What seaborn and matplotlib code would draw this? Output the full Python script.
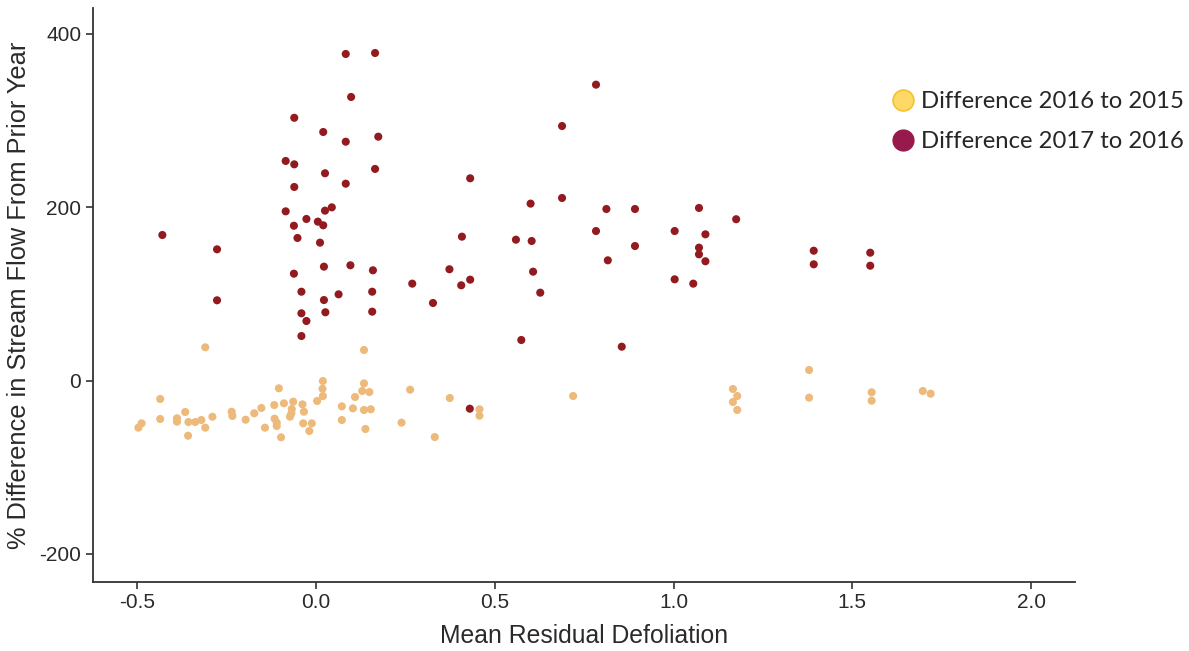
import pandas as pd
import numpy as np
import matplotlib
matplotlib.use("Agg")
import matplotlib.pyplot as plt
import seaborn as sns
from matplotlib.lines import Line2D

# values

# difference 2016 to 2015 (orange points)
defol_1615 = [-0.310, 0.134, 0.019, 0.018, 0.019, -0.104, 0.134, 0.129, 0.149, 0.109,
              0.003, -0.064, -0.090, -0.117, -0.038, -0.436, 0.263, 0.374, 0.072, 0.103,
              0.134, 0.153, -0.068, -0.034, -0.153, -0.173, -0.236, -0.234, -0.366, -0.290,
              -0.389, -0.389, -0.436, -0.357, -0.338, -0.321, -0.310, -0.358, -0.488, -0.497,
              -0.197, -0.116, -0.110, -0.110, -0.143, -0.069, -0.073, -0.036, -0.012, -0.019,
              -0.098, 0.072, 0.138, 0.239, 0.332, 0.457, 0.457, 0.719,
              1.166, 1.178, 1.166, 1.178, 1.379, 1.379, 1.554, 1.554, 1.697, 1.719]
flow_1615 = [38.3, 35.2, -0.6, -9.5, -17.9, -9.0, -3.3, -12.1, -13.3, -19.0,
             -23.6, -24.4, -26.3, -28.3, -27.5, -21.3, -10.6, -20.2, -29.8, -32.1,
             -34.0, -33.2, -32.9, -36.0, -31.7, -37.8, -36.0, -40.9, -36.3, -41.8,
             -43.6, -47.5, -44.4, -47.9, -47.9, -45.6, -54.4, -63.7, -49.4, -54.4,
             -45.2, -44.0, -48.6, -52.5, -54.4, -37.8, -41.7, -49.4, -49.4, -58.2,
             -65.5, -45.6, -55.9, -48.6, -65.2, -33.2, -40.6, -17.9,
             -9.8, -17.9, -24.8, -34.0, 12.1, -19.8, -13.6, -23.3, -12.1, -15.2]

# difference 2017 to 2016 (dark red points)
defol_1716 = [0.083, 0.165, 0.098, -0.061, 0.020, 0.083, 0.174, -0.085, -0.061, 0.025,
              0.165, -0.061, 0.083, 0.431, -0.085, 0.044, 0.025, -0.027, 0.005, 0.020,
              -0.062, -0.052, 0.011, -0.430, -0.277, 0.408, 0.022, 0.096, 0.159, -0.062,
              0.373, 0.269, 0.431, 0.406, -0.041, 0.157, 0.063, -0.277, 0.022, 0.327,
              -0.041, 0.026, 0.157, -0.027, -0.041,
              0.783, 0.688, 0.600, 0.688, 0.812, 0.892, 1.071, 1.175, 0.559, 0.603,
              0.783, 1.003, 1.089, 0.892, 1.071, 1.071, 1.089, 0.816, 0.607, 0.627,
              1.003, 1.055, 0.574, 0.855,
              1.392, 1.392, 1.550, 1.550, 0.430]
flow_1716 = [376.6, 377.7, 327.0, 303.0, 286.6, 275.4, 281.2, 253.2, 249.3, 239.0,
             244.0, 223.2, 227.0, 233.2, 195.1, 199.7, 195.9, 186.3, 183.2, 179.0,
             178.5, 164.4, 159.0, 167.8, 151.3, 165.9, 131.3, 132.9, 127.1, 123.2,
             128.3, 111.7, 116.3, 109.8, 102.4, 102.4, 99.4, 92.5, 92.8, 89.4,
             77.5, 78.7, 79.4, 68.6, 51.3,
             341.2, 293.5, 204.0, 210.5, 197.8, 197.8, 199.0, 186.0, 162.4, 160.9,
             172.4, 172.4, 168.6, 155.1, 153.2, 145.5, 137.5, 138.6, 125.5, 101.3,
             116.7, 111.7, 46.7, 39.0,
             149.7, 134.0, 147.4, 132.4, -32.5]

labels = ["Difference 2016 to 2015", "Difference 2017 to 2016"]

df = pd.DataFrame({
    'defoliation': defol_1615 + defol_1716,
    'flow': flow_1615 + flow_1716,
    'period': [labels[0]] * len(defol_1615) + [labels[1]] * len(defol_1716),
})

sns.set_style("white")
plt.rcParams['font.family'] = ['Liberation Sans', 'DejaVu Sans']
plt.rcParams['axes.unicode_minus'] = False

fig = plt.figure(figsize=(11.89, 6.51), dpi=100)
ax = fig.add_axes([0.0782, 0.1065, 0.8260, 0.8812])

sns.scatterplot(data=df, x='defoliation', y='flow', hue='period',
                palette={labels[0]: '#EDBA7C', labels[1]: '#931A1F'},
                s=34, linewidth=0, legend=False, ax=ax)

ax.set_xlim(-0.624, 2.123)
ax.set_ylim(-232, 429.6)
ax.set_xticks([-0.5, 0.0, 0.5, 1.0, 1.5, 2.0])
ax.set_xticklabels(['-0.5', '0.0', '0.5', '1.0', '1.5', '2.0'])
ax.set_yticks([-200, 0, 200, 400])
ax.tick_params(axis='both', labelsize=15, length=5, width=1.2,
               color='#333333', labelcolor='#2a2a2a', direction='out',
               bottom=True, left=True)
for side in ['top', 'right']:
    ax.spines[side].set_visible(False)
for side in ['left', 'bottom']:
    ax.spines[side].set_color('#333333')
    ax.spines[side].set_linewidth(1.3)

ax.set_xlabel('Mean Residual Defoliation', fontsize=17.8, color='#2a2a2a', labelpad=8)
ax.set_ylabel('% Difference in Stream Flow From Prior Year', fontsize=18.3,
              color='#2a2a2a', labelpad=6)

# legend sits outside the plot at the top right
handles = [
    Line2D([], [], marker='o', linestyle='', markersize=15,
           markerfacecolor='#FFD966', markeredgecolor='#F2C230', markeredgewidth=1.2),
    Line2D([], [], marker='o', linestyle='', markersize=15,
           markerfacecolor='#961A4C', markeredgecolor='#961A4C'),
]
fig.legend(handles, labels, loc='upper left', bbox_to_anchor=(0.7273, 0.8925),
           frameon=False, handlelength=1.4, handletextpad=0.05, labelspacing=0.78,
           prop={'family': ['Lato', 'DejaVu Sans'], 'size': 17.2})

fig.savefig('out.png', dpi=100)
